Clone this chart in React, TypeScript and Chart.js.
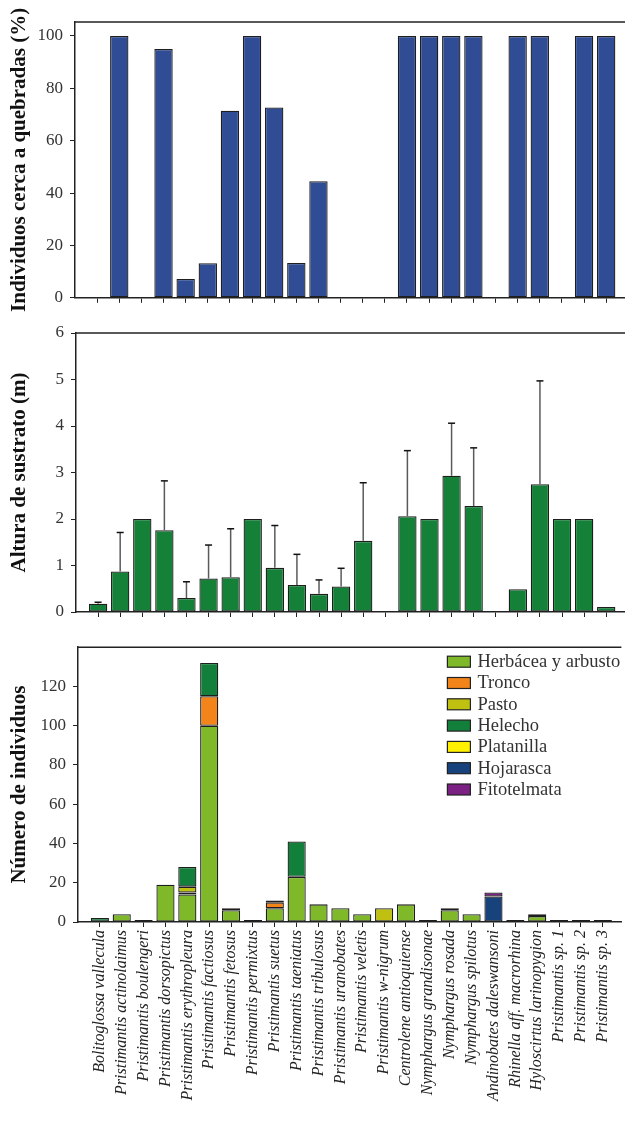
import React, { useEffect, useRef } from "react";
import { Chart, registerables } from "chart.js";

Chart.register(...registerables);

// ---------------- DATA ----------------
const species = [
  "Bolitoglossa vallecula",
  "Pristimantis actinolaimus",
  "Pristimantis boulengeri",
  "Pristimantis dorsopictus",
  "Pristimantis erythropleura",
  "Pristimantis factiosus",
  "Pristimantis fetosus",
  "Pristimantis permixtus",
  "Pristimantis suetus",
  "Pristimantis taeniatus",
  "Pristimantis tribulosus",
  "Pristimantis uranobates",
  "Pristimantis veletis",
  "Pristimantis w-nigrum",
  "Centrolene antioquiense",
  "Nymphargus grandisonae",
  "Nymphargus rosada",
  "Nymphargus spilotus",
  "Andinobates daleswansoni",
  "Rhinella aff. macrorhina",
  "Hyloscirtus larinopygion",
  "Pristimantis sp. 1",
  "Pristimantis sp. 2",
  "Pristimantis sp. 3",
];

// Panel 1: % individuals near streams
const nearStreamPct = [null, 100, null, 95, 7.2, 13.2, 71.4, 100, 72.7, 13.3, 44.5, null, null, null, 100, 100, 100, 100, null, 100, 100, null, 100, 100];

// Panel 2: substrate height (m), mean and mean + SD
const heightMean = [0.18, 0.87, 2.0, 1.76, 0.3, 0.72, 0.75, 2.0, 0.95, 0.58, 0.39, 0.55, 1.53, null, 2.06, 2.0, 2.93, 2.28, null, 0.49, 2.75, 2.0, 2.0, 0.11];
const heightUpper = [0.21, 1.71, null, 2.82, 0.65, 1.44, 1.79, null, 1.86, 1.24, 0.69, 0.94, 2.78, null, 3.47, null, 4.06, 3.53, null, null, 4.97, null, null, null];

// Panel 3: number of individuals by substrate
const herbacea = [null, 4, 1, 19, 14, 100, 6, 1, 7, 23, 9, 7, 4, null, 9, null, 6, 4, null, 1, 3, 1, null, 1];
const tronco = [null, null, null, null, 1, 15, 1, null, 3, null, null, null, null, null, null, null, null, null, null, null, 1, null, null, null];
const pasto = [null, null, null, null, 3, null, null, null, null, null, null, null, null, 7, null, 1, 1, null, null, null, null, null, 1, null];
const helecho = [2, null, null, null, 10, 17, null, null, 1, 18, null, null, null, null, null, null, null, null, null, null, null, null, null, null];
const platanilla = [null, null, null, null, null, null, null, null, null, null, null, null, null, null, null, null, null, null, null, null, null, null, null, null];
const hojarasca = [null, null, null, null, null, null, null, null, null, null, null, null, null, null, null, null, null, null, 13, null, null, null, null, null];
const fitotelmata = [null, null, null, null, null, null, null, null, null, null, null, null, null, null, null, null, null, null, 2, null, null, null, null, null];

const substrateLabels = ["Herbácea y arbusto", "Tronco", "Pasto", "Helecho", "Platanilla", "Hojarasca", "Fitotelmata"];

const yTicksPct = [0, 20, 40, 60, 80, 100];
const yTicksHeight = [0, 1, 2, 3, 4, 5, 6];
const yTicksCount = [0, 20, 40, 60, 80, 100, 120];

// ---------------- STYLE ----------------
const SERIF = "'Liberation Serif', 'Times New Roman', serif";
const AXIS = "#222";
const BAR_BORDER = "#1e1e1e";
const COLORS = {
  blue: "#2F4C94",
  green: "#148038",
  herbacea: "#7FB92A",
  tronco: "#F2841A",
  pasto: "#C0C010",
  helecho: "#12803A",
  platanilla: "#FFF000",
  hojarasca: "#17427B",
  fitotelmata: "#7B2183",
};

Chart.defaults.font.family = SERIF;

const toXY = (arr: (number | null)[]) => species.map((_, i) => ({ x: i, y: arr[i] }));

function xAxis(axisHeight: number, showLabels: boolean, stacked = false) {
  return {
    type: "linear" as const,
    min: -1,
    max: 23.85,
    offset: false,
    stacked,
    bounds: "data" as const,
    afterBuildTicks: (ax: any) => {
      ax.ticks = species.map((_, i) => ({ value: i }));
    },
    afterFit: (ax: any) => {
      ax.height = axisHeight;
    },
    grid: { drawOnChartArea: false, drawTicks: true, tickLength: 5, color: AXIS, lineWidth: 1, offset: false },
    border: { display: true, color: AXIS, width: 1.5 },
    ticks: {
      display: showLabels,
      autoSkip: false,
      minRotation: 90,
      maxRotation: 90,
      padding: 3,
      color: "#222",
      font: { family: SERIF, size: 16, style: "italic" as const },
      callback: (v: any) => species[Number(v)] ?? "",
    },
  };
}

function yAxis(width: number, max: number, ticks: number[], title: string, stacked = false) {
  return {
    min: 0,
    max,
    stacked,
    afterBuildTicks: (ax: any) => {
      ax.ticks = ticks.map((v) => ({ value: v }));
    },
    afterFit: (ax: any) => {
      ax.width = width;
    },
    grid: { drawOnChartArea: false, drawTicks: true, tickLength: 5, color: AXIS, lineWidth: 1 },
    border: { display: true, color: AXIS, width: 1.5 },
    ticks: { padding: 7, color: "#333", font: { family: SERIF, size: 17 } },
    title: {
      display: true,
      text: title,
      color: "#111",
      font: { family: SERIF, size: 21, weight: "bold" as const },
      padding: { top: 7, bottom: 0 },
    },
  };
}

const topFramePlugin = {
  id: "topFrame",
  afterDraw(chart: any) {
    const { ctx, chartArea } = chart;
    ctx.save();
    ctx.strokeStyle = AXIS;
    ctx.lineWidth = 1.5;
    ctx.beginPath();
    ctx.moveTo(chartArea.left, chartArea.top);
    ctx.lineTo(chartArea.right, chartArea.top);
    ctx.stroke();
    ctx.restore();
  },
};

const errorBarPlugin = {
  id: "errorBars",
  afterDatasetsDraw(chart: any) {
    const meta = chart.getDatasetMeta(0);
    const ys = chart.scales.y;
    const ctx = chart.ctx;
    ctx.save();
    meta.data.forEach((bar: any, i: number) => {
      const up = heightUpper[i];
      const m = heightMean[i];
      if (up == null || m == null) return;
      const yTop = ys.getPixelForValue(up);
      const yBar = ys.getPixelForValue(m);
      ctx.strokeStyle = "#5a5a5a";
      ctx.lineWidth = 1.5;
      ctx.beginPath();
      ctx.moveTo(bar.x, yBar);
      ctx.lineTo(bar.x, yTop);
      ctx.stroke();
      ctx.strokeStyle = "#111";
      ctx.beginPath();
      ctx.moveTo(bar.x - 3.5, yTop);
      ctx.lineTo(bar.x + 3.5, yTop);
      ctx.stroke();
    });
    ctx.restore();
  },
};

const boxLegendPlugin = {
  id: "boxLegend",
  afterDraw(chart: any) {
    const { ctx, chartArea } = chart;
    const x0 = chartArea.right - 174;
    const y0 = chartArea.top + 9;
    ctx.save();
    ctx.font = `18.5px ${SERIF}`;
    ctx.textBaseline = "middle";
    ctx.textAlign = "left";
    chart.data.datasets.forEach((ds: any, k: number) => {
      const y = y0 + k * 21.3;
      ctx.fillStyle = ds.backgroundColor;
      ctx.fillRect(x0, y, 23, 11);
      ctx.strokeStyle = "#222";
      ctx.lineWidth = 1.2;
      ctx.strokeRect(x0, y, 23, 11);
      ctx.fillStyle = "#333";
      ctx.fillText(ds.label, x0 + 30, y + 6);
    });
    ctx.restore();
  },
};

const barStyle = {
  borderColor: BAR_BORDER,
  borderWidth: 1.3,
  borderSkipped: false as const,
  categoryPercentage: 0.83,
  barPercentage: 1,
};

function useChart(ref: React.RefObject<HTMLCanvasElement>, makeConfig: () => any) {
  useEffect(() => {
    if (!ref.current) return;
    const chart = new Chart(ref.current, makeConfig());
    return () => chart.destroy();
  }, []);
}

const W = 625;

export default function App() {
  const c1 = useRef<HTMLCanvasElement>(null);
  const c2 = useRef<HTMLCanvasElement>(null);
  const c3 = useRef<HTMLCanvasElement>(null);

  useChart(c1 as any, () => ({
    type: "bar",
    data: {
      datasets: [{ label: "Individuos cerca a quebradas (%)", data: toXY(nearStreamPct), backgroundColor: COLORS.blue, ...barStyle }],
    },
    options: {
      responsive: false,
      animation: false,
      devicePixelRatio: 1,
      layout: { padding: { top: 22, left: 0, right: 0, bottom: 0 } },
      plugins: { legend: { display: false }, tooltip: { enabled: false } },
      scales: {
        x: xAxis(14, false),
        y: yAxis(75, 105.3, yTicksPct, "Individuos cerca a quebradas (%)"),
      },
    },
    plugins: [topFramePlugin],
  }));

  useChart(c2 as any, () => ({
    type: "bar",
    data: {
      datasets: [{ label: "Altura de sustrato (m)", data: toXY(heightMean), backgroundColor: COLORS.green, ...barStyle }],
    },
    options: {
      responsive: false,
      animation: false,
      devicePixelRatio: 1,
      layout: { padding: { top: 18, left: 0, right: 0, bottom: 0 } },
      plugins: { legend: { display: false }, tooltip: { enabled: false } },
      scales: {
        x: xAxis(18, false),
        y: yAxis(76, 6, yTicksHeight, "Altura de sustrato (m)"),
      },
    },
    plugins: [topFramePlugin, errorBarPlugin],
  }));

  useChart(c3 as any, () => {
    const series = [herbacea, tronco, pasto, helecho, platanilla, hojarasca, fitotelmata];
    const colors = [COLORS.herbacea, COLORS.tronco, COLORS.pasto, COLORS.helecho, COLORS.platanilla, COLORS.hojarasca, COLORS.fitotelmata];
    return {
      type: "bar",
      data: {
        datasets: series.map((s, k) => ({
          label: substrateLabels[k],
          data: toXY(s),
          backgroundColor: colors[k],
          ...barStyle,
        })),
      },
      options: {
        responsive: false,
        animation: false,
        devicePixelRatio: 1,
        layout: { padding: { top: 13, left: 0, right: 0, bottom: 0 } },
        plugins: { legend: { display: false }, tooltip: { enabled: false } },
        scales: {
          x: xAxis(218, true, true),
          y: yAxis(78, 140, yTicksCount, "Número de individuos", true),
        },
      },
      plugins: [topFramePlugin, boxLegendPlugin],
    };
  });

  const abs = (top: number, h: number): React.CSSProperties => ({ position: "absolute", left: 0, top, width: W, height: h, display: "block" });

  return (
    <div style={{ position: "absolute", left: 0, top: 0, width: W, height: 1140, background: "#fff", overflow: "hidden" }}>
      <canvas ref={c1} width={W} height={315} style={abs(0, 315)} />
      <canvas ref={c2} width={W} height={315} style={abs(315, 315)} />
      <canvas ref={c3} width={W} height={510} style={abs(630, 510)} />
    </div>
  );
}
